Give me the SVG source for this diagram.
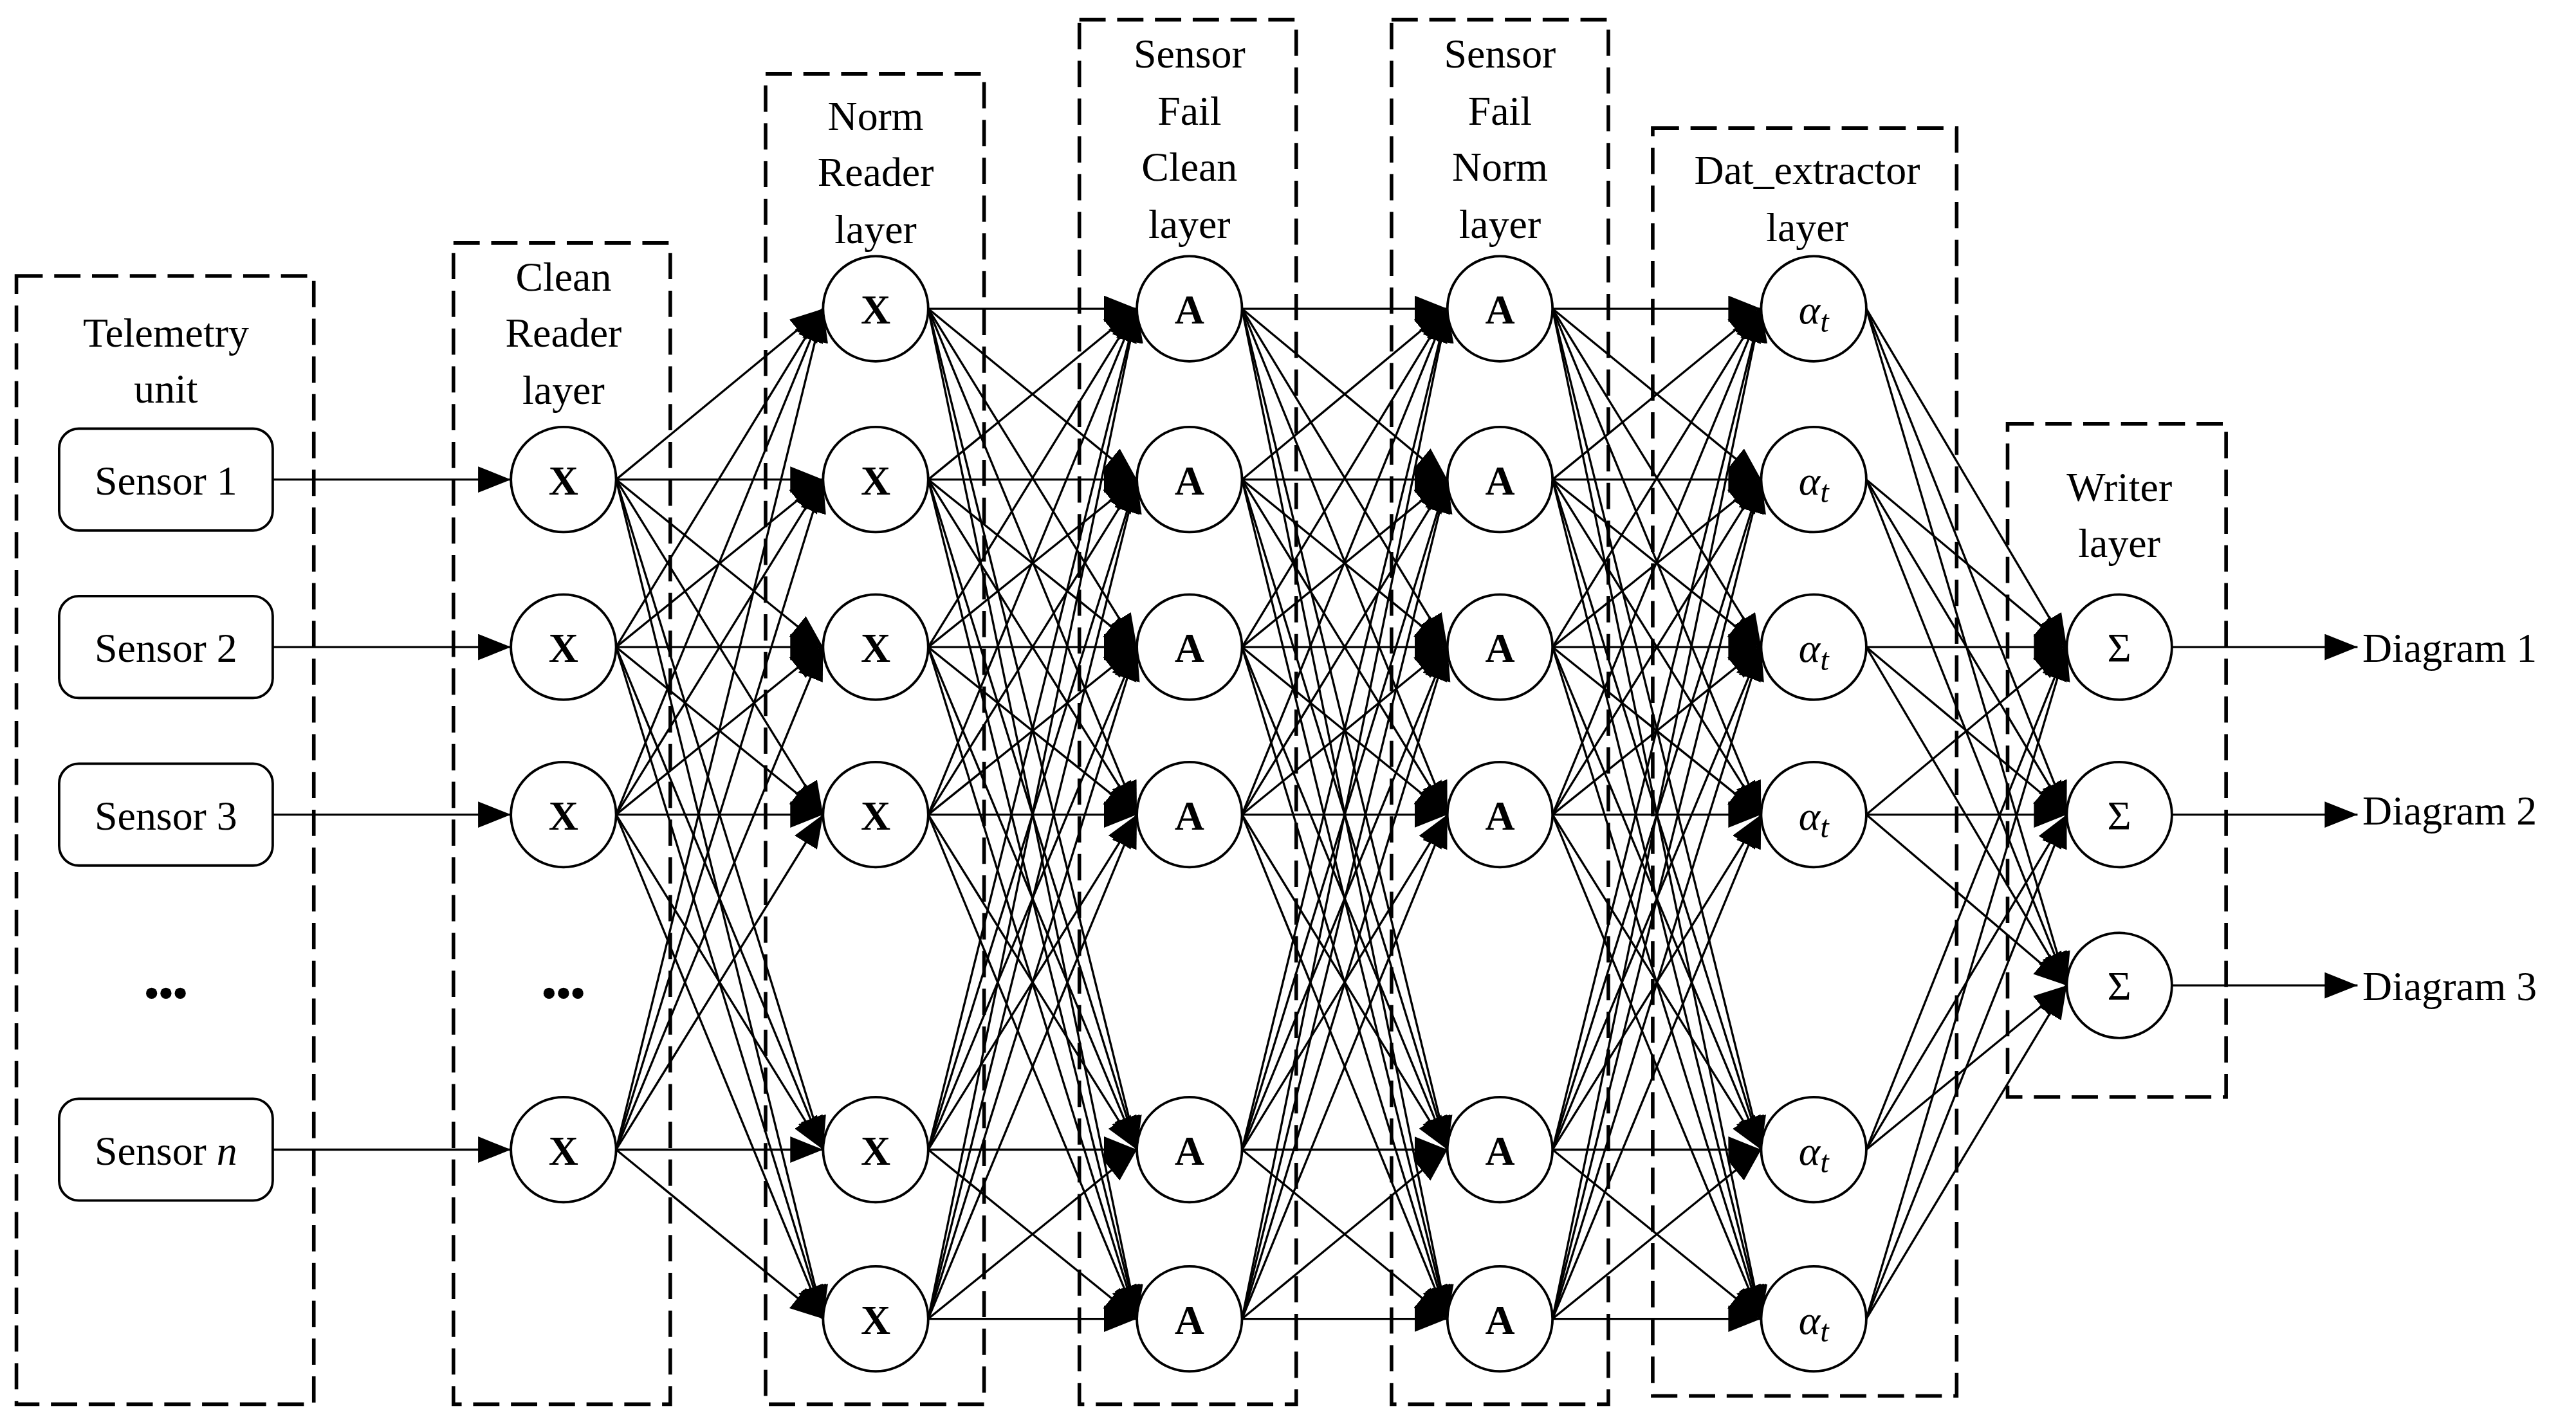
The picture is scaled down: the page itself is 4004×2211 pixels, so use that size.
<svg xmlns="http://www.w3.org/2000/svg" width="4004" height="2211" viewBox="0 0 4004 2211">
<style>
.box{fill:none;stroke:#000;stroke-width:2.2;stroke-dasharray:16 7}
.n{fill:#fff;stroke:#000;stroke-width:1.5}
.s{fill:#fff;stroke:#000;stroke-width:1.5}
.t{font-family:"Liberation Serif",serif;font-size:25px;text-anchor:middle;fill:#000}
.b{font-weight:bold}
#conn line{stroke:#000;stroke-width:1.3;marker-end:url(#ah)}
</style>
<defs>
<marker id="ah" markerUnits="userSpaceOnUse" markerWidth="24" markerHeight="20" refX="20" refY="8" orient="auto"><path d="M0,0 L20,8 L0,16 z" fill="#000"/></marker>
</defs>
<rect width="4004" height="2211" fill="#fff"/>
<g transform="scale(2.5536)">
<g id="boxes">
<rect class="box" x="10" y="168" width="181" height="687"/>
<rect class="box" x="276" y="148" width="132" height="707"/>
<rect class="box" x="466" y="45" width="133" height="810"/>
<rect class="box" x="657" y="12" width="132" height="843"/>
<rect class="box" x="847" y="12" width="132" height="843"/>
<rect class="box" x="1006" y="78" width="185" height="772"/>
<rect class="box" x="1222" y="258" width="133" height="410"/>
</g>
<g id="titles" class="t">
<text x="101" y="211">Telemetry</text><text x="101" y="245">unit</text>
<text x="343" y="177">Clean</text><text x="343" y="211">Reader</text><text x="343" y="246">layer</text>
<text x="533" y="79">Norm</text><text x="533" y="113">Reader</text><text x="533" y="148">layer</text>
<text x="724" y="41">Sensor</text><text x="724" y="76">Fail</text><text x="724" y="110">Clean</text><text x="724" y="145">layer</text>
<text x="913" y="41">Sensor</text><text x="913" y="76">Fail</text><text x="913" y="110">Norm</text><text x="913" y="145">layer</text>
<text x="1100" y="112">Dat_extractor</text><text x="1100" y="147">layer</text>
<text x="1290" y="305">Writer</text><text x="1290" y="339">layer</text>
<text x="101" y="613" class="b">•••</text><text x="343" y="613" class="b">•••</text>
<text x="1438" y="403" text-anchor="start">Diagram 1</text>
<text x="1438" y="502" text-anchor="start">Diagram 2</text>
<text x="1438" y="609" text-anchor="start">Diagram 3</text>
</g>
<g id="conn">
<line x1="166" y1="292" x2="311" y2="292"/><line x1="166" y1="394" x2="311" y2="394"/><line x1="166" y1="496" x2="311" y2="496"/><line x1="166" y1="700" x2="311" y2="700"/>
<line x1="1322" y1="394" x2="1435" y2="394"/><line x1="1322" y1="496" x2="1435" y2="496"/><line x1="1322" y1="600" x2="1435" y2="600"/>
<line x1="375" y1="292" x2="501" y2="188"/><line x1="375" y1="292" x2="501" y2="292"/><line x1="375" y1="292" x2="501" y2="394"/><line x1="375" y1="292" x2="501" y2="496"/><line x1="375" y1="292" x2="501" y2="700"/><line x1="375" y1="292" x2="501" y2="803"/>
<line x1="375" y1="394" x2="501" y2="188"/><line x1="375" y1="394" x2="501" y2="292"/><line x1="375" y1="394" x2="501" y2="394"/><line x1="375" y1="394" x2="501" y2="496"/><line x1="375" y1="394" x2="501" y2="700"/><line x1="375" y1="394" x2="501" y2="803"/>
<line x1="375" y1="496" x2="501" y2="188"/><line x1="375" y1="496" x2="501" y2="292"/><line x1="375" y1="496" x2="501" y2="394"/><line x1="375" y1="496" x2="501" y2="496"/><line x1="375" y1="496" x2="501" y2="700"/><line x1="375" y1="496" x2="501" y2="803"/>
<line x1="375" y1="700" x2="501" y2="188"/><line x1="375" y1="700" x2="501" y2="292"/><line x1="375" y1="700" x2="501" y2="394"/><line x1="375" y1="700" x2="501" y2="496"/><line x1="375" y1="700" x2="501" y2="700"/><line x1="375" y1="700" x2="501" y2="803"/>
<line x1="565" y1="188" x2="692" y2="188"/><line x1="565" y1="188" x2="692" y2="292"/><line x1="565" y1="188" x2="692" y2="394"/><line x1="565" y1="188" x2="692" y2="496"/><line x1="565" y1="188" x2="692" y2="700"/><line x1="565" y1="188" x2="692" y2="803"/>
<line x1="565" y1="292" x2="692" y2="188"/><line x1="565" y1="292" x2="692" y2="292"/><line x1="565" y1="292" x2="692" y2="394"/><line x1="565" y1="292" x2="692" y2="496"/><line x1="565" y1="292" x2="692" y2="700"/><line x1="565" y1="292" x2="692" y2="803"/>
<line x1="565" y1="394" x2="692" y2="188"/><line x1="565" y1="394" x2="692" y2="292"/><line x1="565" y1="394" x2="692" y2="394"/><line x1="565" y1="394" x2="692" y2="496"/><line x1="565" y1="394" x2="692" y2="700"/><line x1="565" y1="394" x2="692" y2="803"/>
<line x1="565" y1="496" x2="692" y2="188"/><line x1="565" y1="496" x2="692" y2="292"/><line x1="565" y1="496" x2="692" y2="394"/><line x1="565" y1="496" x2="692" y2="496"/><line x1="565" y1="496" x2="692" y2="700"/><line x1="565" y1="496" x2="692" y2="803"/>
<line x1="565" y1="700" x2="692" y2="188"/><line x1="565" y1="700" x2="692" y2="292"/><line x1="565" y1="700" x2="692" y2="394"/><line x1="565" y1="700" x2="692" y2="496"/><line x1="565" y1="700" x2="692" y2="700"/><line x1="565" y1="700" x2="692" y2="803"/>
<line x1="565" y1="803" x2="692" y2="188"/><line x1="565" y1="803" x2="692" y2="292"/><line x1="565" y1="803" x2="692" y2="394"/><line x1="565" y1="803" x2="692" y2="496"/><line x1="565" y1="803" x2="692" y2="700"/><line x1="565" y1="803" x2="692" y2="803"/>
<line x1="756" y1="188" x2="881" y2="188"/><line x1="756" y1="188" x2="881" y2="292"/><line x1="756" y1="188" x2="881" y2="394"/><line x1="756" y1="188" x2="881" y2="496"/><line x1="756" y1="188" x2="881" y2="700"/><line x1="756" y1="188" x2="881" y2="803"/>
<line x1="756" y1="292" x2="881" y2="188"/><line x1="756" y1="292" x2="881" y2="292"/><line x1="756" y1="292" x2="881" y2="394"/><line x1="756" y1="292" x2="881" y2="496"/><line x1="756" y1="292" x2="881" y2="700"/><line x1="756" y1="292" x2="881" y2="803"/>
<line x1="756" y1="394" x2="881" y2="188"/><line x1="756" y1="394" x2="881" y2="292"/><line x1="756" y1="394" x2="881" y2="394"/><line x1="756" y1="394" x2="881" y2="496"/><line x1="756" y1="394" x2="881" y2="700"/><line x1="756" y1="394" x2="881" y2="803"/>
<line x1="756" y1="496" x2="881" y2="188"/><line x1="756" y1="496" x2="881" y2="292"/><line x1="756" y1="496" x2="881" y2="394"/><line x1="756" y1="496" x2="881" y2="496"/><line x1="756" y1="496" x2="881" y2="700"/><line x1="756" y1="496" x2="881" y2="803"/>
<line x1="756" y1="700" x2="881" y2="188"/><line x1="756" y1="700" x2="881" y2="292"/><line x1="756" y1="700" x2="881" y2="394"/><line x1="756" y1="700" x2="881" y2="496"/><line x1="756" y1="700" x2="881" y2="700"/><line x1="756" y1="700" x2="881" y2="803"/>
<line x1="756" y1="803" x2="881" y2="188"/><line x1="756" y1="803" x2="881" y2="292"/><line x1="756" y1="803" x2="881" y2="394"/><line x1="756" y1="803" x2="881" y2="496"/><line x1="756" y1="803" x2="881" y2="700"/><line x1="756" y1="803" x2="881" y2="803"/>
<line x1="945" y1="188" x2="1072" y2="188"/><line x1="945" y1="188" x2="1072" y2="292"/><line x1="945" y1="188" x2="1072" y2="394"/><line x1="945" y1="188" x2="1072" y2="496"/><line x1="945" y1="188" x2="1072" y2="700"/><line x1="945" y1="188" x2="1072" y2="803"/>
<line x1="945" y1="292" x2="1072" y2="188"/><line x1="945" y1="292" x2="1072" y2="292"/><line x1="945" y1="292" x2="1072" y2="394"/><line x1="945" y1="292" x2="1072" y2="496"/><line x1="945" y1="292" x2="1072" y2="700"/><line x1="945" y1="292" x2="1072" y2="803"/>
<line x1="945" y1="394" x2="1072" y2="188"/><line x1="945" y1="394" x2="1072" y2="292"/><line x1="945" y1="394" x2="1072" y2="394"/><line x1="945" y1="394" x2="1072" y2="496"/><line x1="945" y1="394" x2="1072" y2="700"/><line x1="945" y1="394" x2="1072" y2="803"/>
<line x1="945" y1="496" x2="1072" y2="188"/><line x1="945" y1="496" x2="1072" y2="292"/><line x1="945" y1="496" x2="1072" y2="394"/><line x1="945" y1="496" x2="1072" y2="496"/><line x1="945" y1="496" x2="1072" y2="700"/><line x1="945" y1="496" x2="1072" y2="803"/>
<line x1="945" y1="700" x2="1072" y2="188"/><line x1="945" y1="700" x2="1072" y2="292"/><line x1="945" y1="700" x2="1072" y2="394"/><line x1="945" y1="700" x2="1072" y2="496"/><line x1="945" y1="700" x2="1072" y2="700"/><line x1="945" y1="700" x2="1072" y2="803"/>
<line x1="945" y1="803" x2="1072" y2="188"/><line x1="945" y1="803" x2="1072" y2="292"/><line x1="945" y1="803" x2="1072" y2="394"/><line x1="945" y1="803" x2="1072" y2="496"/><line x1="945" y1="803" x2="1072" y2="700"/><line x1="945" y1="803" x2="1072" y2="803"/>
<line x1="1136" y1="188" x2="1258" y2="394"/><line x1="1136" y1="188" x2="1258" y2="496"/><line x1="1136" y1="188" x2="1258" y2="600"/>
<line x1="1136" y1="292" x2="1258" y2="394"/><line x1="1136" y1="292" x2="1258" y2="496"/><line x1="1136" y1="292" x2="1258" y2="600"/>
<line x1="1136" y1="394" x2="1258" y2="394"/><line x1="1136" y1="394" x2="1258" y2="496"/><line x1="1136" y1="394" x2="1258" y2="600"/>
<line x1="1136" y1="496" x2="1258" y2="394"/><line x1="1136" y1="496" x2="1258" y2="496"/><line x1="1136" y1="496" x2="1258" y2="600"/>
<line x1="1136" y1="700" x2="1258" y2="394"/><line x1="1136" y1="700" x2="1258" y2="496"/><line x1="1136" y1="700" x2="1258" y2="600"/>
<line x1="1136" y1="803" x2="1258" y2="394"/><line x1="1136" y1="803" x2="1258" y2="496"/><line x1="1136" y1="803" x2="1258" y2="600"/>
</g>
<g id="sensors" class="t">
<g id="s1"><rect class="s" x="36" y="261" width="130" height="62" rx="12"/><text x="101" y="301">Sensor 1</text></g>
<g id="s2"><rect class="s" x="36" y="363" width="130" height="62" rx="12"/><text x="101" y="403">Sensor 2</text></g>
<g id="s3"><rect class="s" x="36" y="465" width="130" height="62" rx="12"/><text x="101" y="505">Sensor 3</text></g>
<g id="sn"><rect class="s" x="36" y="669" width="130" height="62" rx="12"/><text x="101" y="709">Sensor <tspan font-style="italic">n</tspan></text></g>
</g>
<g id="nodes" class="t">
<g id="c1"><circle class="n" cx="343" cy="292" r="32"/><text x="343" y="301" class="b">X</text></g>
<g id="c2"><circle class="n" cx="343" cy="394" r="32"/><text x="343" y="403" class="b">X</text></g>
<g id="c3"><circle class="n" cx="343" cy="496" r="32"/><text x="343" y="505" class="b">X</text></g>
<g id="c4"><circle class="n" cx="343" cy="700" r="32"/><text x="343" y="709" class="b">X</text></g>
<g id="r1"><circle class="n" cx="533" cy="188" r="32"/><text x="533" y="197" class="b">X</text></g>
<g id="r2"><circle class="n" cx="533" cy="292" r="32"/><text x="533" y="301" class="b">X</text></g>
<g id="r3"><circle class="n" cx="533" cy="394" r="32"/><text x="533" y="403" class="b">X</text></g>
<g id="r4"><circle class="n" cx="533" cy="496" r="32"/><text x="533" y="505" class="b">X</text></g>
<g id="r5"><circle class="n" cx="533" cy="700" r="32"/><text x="533" y="709" class="b">X</text></g>
<g id="r6"><circle class="n" cx="533" cy="803" r="32"/><text x="533" y="812" class="b">X</text></g>
<g id="f1"><circle class="n" cx="724" cy="188" r="32"/><text x="724" y="197" class="b">A</text></g>
<g id="f2"><circle class="n" cx="724" cy="292" r="32"/><text x="724" y="301" class="b">A</text></g>
<g id="f3"><circle class="n" cx="724" cy="394" r="32"/><text x="724" y="403" class="b">A</text></g>
<g id="f4"><circle class="n" cx="724" cy="496" r="32"/><text x="724" y="505" class="b">A</text></g>
<g id="f5"><circle class="n" cx="724" cy="700" r="32"/><text x="724" y="709" class="b">A</text></g>
<g id="f6"><circle class="n" cx="724" cy="803" r="32"/><text x="724" y="812" class="b">A</text></g>
<g id="g1"><circle class="n" cx="913" cy="188" r="32"/><text x="913" y="197" class="b">A</text></g>
<g id="g2"><circle class="n" cx="913" cy="292" r="32"/><text x="913" y="301" class="b">A</text></g>
<g id="g3"><circle class="n" cx="913" cy="394" r="32"/><text x="913" y="403" class="b">A</text></g>
<g id="g4"><circle class="n" cx="913" cy="496" r="32"/><text x="913" y="505" class="b">A</text></g>
<g id="g5"><circle class="n" cx="913" cy="700" r="32"/><text x="913" y="709" class="b">A</text></g>
<g id="g6"><circle class="n" cx="913" cy="803" r="32"/><text x="913" y="812" class="b">A</text></g>
<g id="d1"><circle class="n" cx="1104" cy="188" r="32"/><text x="1104" y="197" font-style="italic">α<tspan font-size="19" dy="5">t</tspan></text></g>
<g id="d2"><circle class="n" cx="1104" cy="292" r="32"/><text x="1104" y="301" font-style="italic">α<tspan font-size="19" dy="5">t</tspan></text></g>
<g id="d3"><circle class="n" cx="1104" cy="394" r="32"/><text x="1104" y="403" font-style="italic">α<tspan font-size="19" dy="5">t</tspan></text></g>
<g id="d4"><circle class="n" cx="1104" cy="496" r="32"/><text x="1104" y="505" font-style="italic">α<tspan font-size="19" dy="5">t</tspan></text></g>
<g id="d5"><circle class="n" cx="1104" cy="700" r="32"/><text x="1104" y="709" font-style="italic">α<tspan font-size="19" dy="5">t</tspan></text></g>
<g id="d6"><circle class="n" cx="1104" cy="803" r="32"/><text x="1104" y="812" font-style="italic">α<tspan font-size="19" dy="5">t</tspan></text></g>
<g id="w1"><circle class="n" cx="1290" cy="394" r="32"/><text x="1290" y="403">Σ</text></g>
<g id="w2"><circle class="n" cx="1290" cy="496" r="32"/><text x="1290" y="505">Σ</text></g>
<g id="w3"><circle class="n" cx="1290" cy="600" r="32"/><text x="1290" y="609">Σ</text></g>
</g>
</g>
</svg>
